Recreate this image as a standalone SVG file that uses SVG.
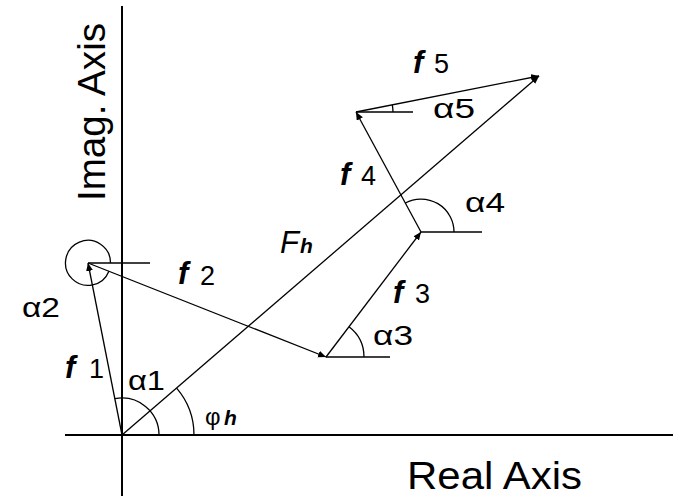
<svg xmlns="http://www.w3.org/2000/svg" width="673" height="496" viewBox="0 0 673 496">
<style>
.axis{stroke:#000;stroke-width:2;fill:none}
.vec{stroke:#000;stroke-width:1.3;fill:none;marker-end:url(#ah)}
.ref{stroke:#000;stroke-width:1.6;fill:none}
.arc{stroke:#000;stroke-width:1.3;fill:none}
text{font-family:"Liberation Sans",Arial,sans-serif;fill:#000}
.fv{font-weight:bold;font-style:italic;font-size:31px}
.num{font-size:27px}
.al{font-size:28px}
</style>
<defs>
<marker id="ah" markerUnits="userSpaceOnUse" markerWidth="10" markerHeight="8" refX="8" refY="3.5" orient="auto">
<path d="M0,0 L8,3.5 L0,7 Z" fill="#000"/>
</marker>
</defs>
<rect width="673" height="496" fill="#fff"/>
<g id="axes">
<line class="axis" x1="122" y1="6" x2="122" y2="496"/>
<line class="axis" x1="65" y1="435" x2="673" y2="435"/>
<text transform="translate(105,201) rotate(-90)" font-size="39" textLength="178" lengthAdjust="spacingAndGlyphs">Imag. Axis</text>
<text x="407" y="489" font-size="38" textLength="175" lengthAdjust="spacingAndGlyphs">Real Axis</text>
</g>
<g id="connectors">
<line class="vec" x1="122" y1="435" x2="88" y2="263"/>
<line class="vec" x1="88" y1="263" x2="326" y2="357"/>
<line class="vec" x1="326" y1="357" x2="421" y2="232"/>
<line class="vec" x1="421" y1="232" x2="356" y2="112"/>
<line class="vec" x1="356" y1="112" x2="539" y2="76"/>
<line class="vec" x1="122" y1="435" x2="539" y2="76"/>
</g>
<g id="refs">
<line class="ref" x1="88" y1="263" x2="150" y2="263"/>
<line class="ref" x1="326" y1="357" x2="390" y2="357"/>
<line class="ref" x1="421" y1="232" x2="482" y2="232"/>
<line class="ref" x1="356" y1="112" x2="413" y2="112"/>
</g>
<g id="angles">
<path class="arc" d="M159,435 A37,37 0 0 0 114.8,398.7"/>
<path class="arc" d="M194,435 A72,72 0 0 0 176.6,388.1"/>
<path class="arc" d="M110.5,263 A22.5,22.5 0 1 0 108.9,271.2"/>
<path class="arc" d="M364,357 A38,38 0 0 0 349,326.8"/>
<path class="arc" d="M454,232 A33,33 0 0 0 405.3,203"/>
<path class="arc" d="M393,112 A37,37 0 0 0 392.3,104.9"/>
</g>
<g id="label-f1"><text class="fv" x="65" y="378">f</text><text class="num" x="89" y="378">1</text></g>
<g id="label-f2"><text class="fv" x="178" y="284">f</text><text class="num" x="200" y="285">2</text></g>
<g id="label-f3"><text class="fv" x="393" y="303">f</text><text class="num" x="415" y="303">3</text></g>
<g id="label-f4"><text class="fv" x="340" y="185">f</text><text class="num" x="361" y="185">4</text></g>
<g id="label-f5"><text class="fv" x="413" y="73">f</text><text class="num" x="434" y="73">5</text></g>
<g id="label-Fh"><text x="280" y="253" font-size="31" font-style="italic">F</text><text x="300" y="253" font-size="21" font-weight="bold" font-style="italic">h</text></g>
<g id="label-phih"><text x="205" y="425" font-size="24">φ</text><text x="224" y="425" font-size="21" font-weight="bold" font-style="italic">h</text></g>
<g id="label-a1"><text class="al" x="128" y="390" textLength="37" lengthAdjust="spacingAndGlyphs">α1</text></g>
<g id="label-a2"><text class="al" x="22" y="317" textLength="38" lengthAdjust="spacingAndGlyphs">α2</text></g>
<g id="label-a3"><text class="al" x="373" y="345" textLength="40" lengthAdjust="spacingAndGlyphs">α3</text></g>
<g id="label-a4"><text class="al" x="465" y="212" textLength="40" lengthAdjust="spacingAndGlyphs">α4</text></g>
<g id="label-a5"><text class="al" x="433" y="118" textLength="42" lengthAdjust="spacingAndGlyphs">α5</text></g>
</svg>
